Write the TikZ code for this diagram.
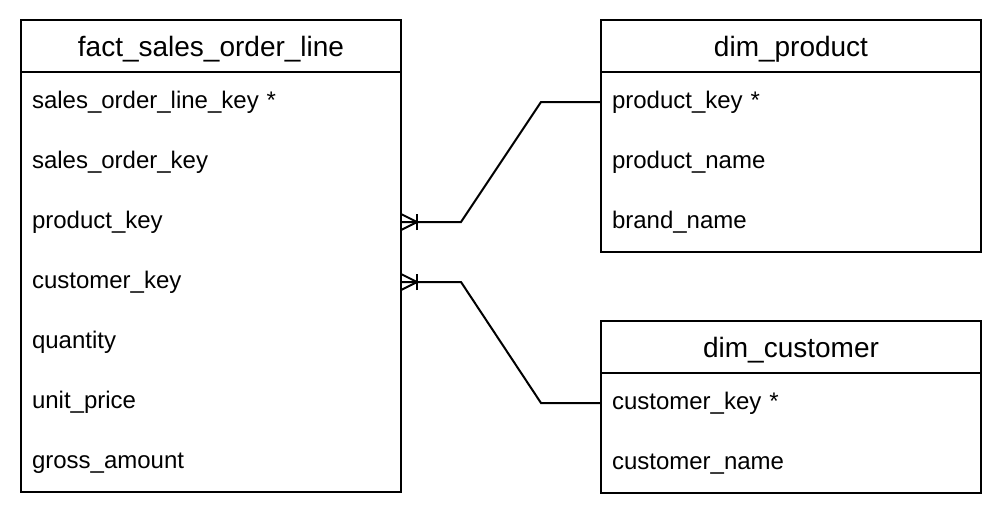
\documentclass[tikz,border=0pt]{standalone}
\usepackage{fontspec}
\setmainfont{Liberation Sans}
\begin{document}
\begin{tikzpicture}[x=1pt,y=-1pt,
  box/.style={draw, line width=2pt, minimum width=380pt, outer sep=0pt, inner sep=0pt},
  head/.style={box, minimum height=52pt, text height=21pt, text depth=0pt, font=\fontsize{28}{32}\selectfont},
  row/.style={anchor=west, minimum height=60pt, text width=358pt, inner xsep=11pt, inner ysep=0pt, outer sep=0pt, align=left, text height=17pt, text depth=5pt, font=\fontsize{24}{28}\selectfont},
  conn/.style={line width=2pt}]
\useasboundingbox (0,0) rectangle (1004,520);
% fact table
\node[head] (fh) at (211,46) {fact\_sales\_order\_line};
\node[box, minimum height=420pt, anchor=north] (fb) at (fh.south) {};
\node[row] (f1) at (21,102) {sales\_order\_line\_key *};
\node[row] (f2) at (21,162) {sales\_order\_key};
\node[row] (f3) at (21,222) {product\_key};
\node[row] (f4) at (21,282) {customer\_key};
\node[row] (f5) at (21,342) {quantity};
\node[row] (f6) at (21,402) {unit\_price};
\node[row] (f7) at (21,462) {gross\_amount};
% dim_product
\node[head] (ph) at (791,46) {dim\_product};
\node[box, minimum height=180pt, anchor=north] (pb) at (ph.south) {};
\node[row] (p1) at (601,102) {product\_key *};
\node[row] (p2) at (601,162) {product\_name};
\node[row] (p3) at (601,222) {brand\_name};
% dim_customer
\node[head] (ch) at (791,347) {dim\_customer};
\node[box, minimum height=120pt, anchor=north] (cb) at (ch.south) {};
\node[row] (c1) at (601,403) {customer\_key *};
\node[row] (c2) at (601,463) {customer\_name};
% connectors
\draw[conn] (f3.east) -- ++(60,0) -- ([xshift=-60pt]p1.west) -- (p1.west);
\draw[conn] ([yshift=-8pt]f3.east) -- ([xshift=16pt]f3.east) -- ([yshift=8pt]f3.east);
\draw[conn] ([xshift=16pt,yshift=-8pt]f3.east) -- ([xshift=16pt,yshift=8pt]f3.east);
\draw[conn] (f4.east) -- ++(60,0) -- ([xshift=-60pt]c1.west) -- (c1.west);
\draw[conn] ([yshift=-8pt]f4.east) -- ([xshift=16pt]f4.east) -- ([yshift=8pt]f4.east);
\draw[conn] ([xshift=16pt,yshift=-8pt]f4.east) -- ([xshift=16pt,yshift=8pt]f4.east);
\end{tikzpicture}
\end{document}
